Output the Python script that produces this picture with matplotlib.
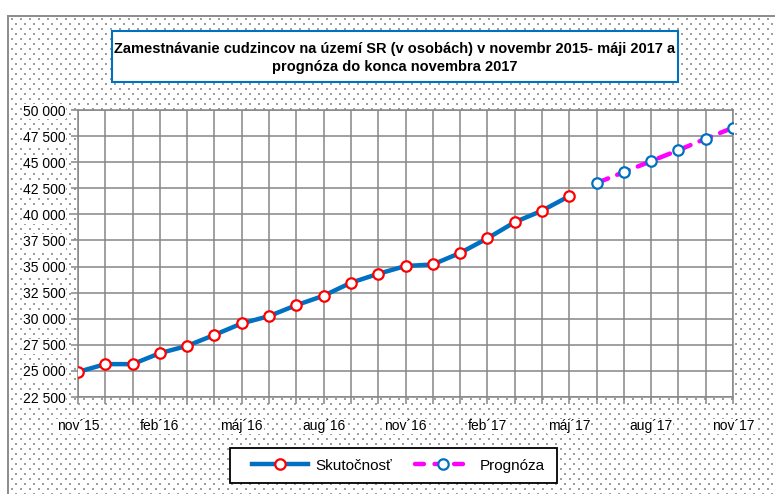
import numpy as np
import matplotlib
matplotlib.use("Agg")
import matplotlib.pyplot as plt
from matplotlib.patches import Rectangle
from matplotlib.lines import Line2D

# data
months = ["nov´15", "dec´15", "jan´16", "feb´16", "mar´16", "apr´16", "máj´16",
          "jún´16", "júl´16", "aug´16", "sep´16", "okt´16", "nov´16", "dec´16",
          "jan´17", "feb´17", "mar´17", "apr´17", "máj´17", "jún´17", "júl´17",
          "aug´17", "sep´17", "okt´17", "nov´17"]
actual = [24900, 25650, 25650, 26700, 27400, 28450, 29550, 30250, 31300, 32200,
          33450, 34300, 35050, 35200, 36300, 37700, 39250, 40350, 41750]
forecast = [43000, 44050, 45100, 46150, 47250, 48300]
yticks = [22500, 25000, 27500, 30000, 32500, 35000, 37500, 40000, 42500, 45000,
          47500, 50000]

FONT = ['Liberation Sans Narrow', 'Liberation Sans', 'DejaVu Sans']
plt.rcParams['font.family'] = FONT

W, H = 775, 494
fig = plt.figure(figsize=(W / 100, H / 100), dpi=100)

# dotted background texture with the gray frame (top and left only)
bg = np.ones((H, W, 3))
for r in range(18, H, 5):
    shift = 0 if ((r - 18) // 5) % 2 == 0 else 4
    for c in range(11 + shift, W, 9):
        bg[r:r + 2, c:c + 2] = 0.62
bg[:15, :] = 1.0
bg[:, :7] = 1.0
bg[15:17, 7:] = 0.56
bg[15:, 7:9] = 0.56
fig.figimage(bg, xo=0, yo=0, zorder=-1)

ax = fig.add_axes([78 / W, 1 - 397 / H, (733 - 78) / W, (397 - 110) / H])
ax.set_facecolor('white')

x_act = np.arange(len(actual))
x_fc = np.arange(len(actual), len(actual) + len(forecast))

ax.plot(x_act, actual, color='#0070C0', lw=3.2, solid_capstyle='round',
        marker='o', ms=7.5, mfc='white', mec='#FF0000', mew=1.6, zorder=3)
ax.plot(x_fc, forecast, color='#FF00FF', lw=3.2, dashes=(2.8, 2.2),
        dash_capstyle='round', marker='o', ms=7.5, mfc='white', mec='#0070C0',
        mew=1.6, zorder=3)

ax.set_xlim(0, len(months) - 1)
ax.set_ylim(yticks[0], yticks[-1])
ax.set_yticks(yticks)
ax.set_yticklabels([f"{v:,}".replace(",", " ") for v in yticks])
ax.set_xticks(np.arange(len(months)))
ax.set_xticklabels([m if i % 3 == 0 else "" for i, m in enumerate(months)])

ax.grid(True, color='#868686', lw=1.1)
ax.set_axisbelow(True)
for s in ax.spines.values():
    s.set_color('#868686')
    s.set_linewidth(1.1)
ax.tick_params(axis='both', direction='out', length=5, width=1.1,
               color='#868686', labelsize=10)
ax.tick_params(axis='x', pad=11)
ax.tick_params(axis='y', pad=4)
for lab in ax.get_yticklabels() + ax.get_xticklabels():
    lab.set_bbox(dict(fc='white', ec='none', pad=0.5))

# title box
fig.add_artist(Rectangle((112 / W, 1 - 82 / H), (678 - 112) / W, (82 - 31) / H,
                         transform=fig.transFigure, fc='white', ec='#0070C0',
                         lw=1.5, zorder=2))
fig.text(395 / W, 1 - 58 / H,
         "Zamestnávanie cudzincov na území SR (v osobách) v novembr 2015- máji 2017 a\n"
         "prognóza do konca novembra 2017",
         ha='center', va='center', fontsize=10.5, fontweight='bold',
         linespacing=1.45, zorder=3)

# legend (box drawn separately so its size matches the reference)
fig.add_artist(Rectangle((230 / W, 1 - 483 / H), (557 - 230) / W, (483 - 448) / H,
                         transform=fig.transFigure, fc='white', ec='black',
                         lw=1.3, zorder=2))
handles = [Line2D([], [], color='#0070C0', lw=3.2, marker='o', ms=7.5,
                  mfc='white', mec='#FF0000', mew=1.6),
           Line2D([], [], color='#FF00FF', lw=3.2, dashes=(2.0, 2.4),
                  dash_capstyle='round', marker='o', ms=7.5, mfc='white',
                  mec='#0070C0', mew=1.6)]
leg = fig.legend(handles, ['Skutočnosť', 'Prognóza'], loc='center',
                 bbox_to_anchor=(398 / W, 1 - 465.5 / H), ncol=2,
                 fontsize=11, handlelength=3.7, handletextpad=0.5,
                 columnspacing=1.5, frameon=False)
leg.set_zorder(3)

fig.savefig("out.png", dpi=100)
